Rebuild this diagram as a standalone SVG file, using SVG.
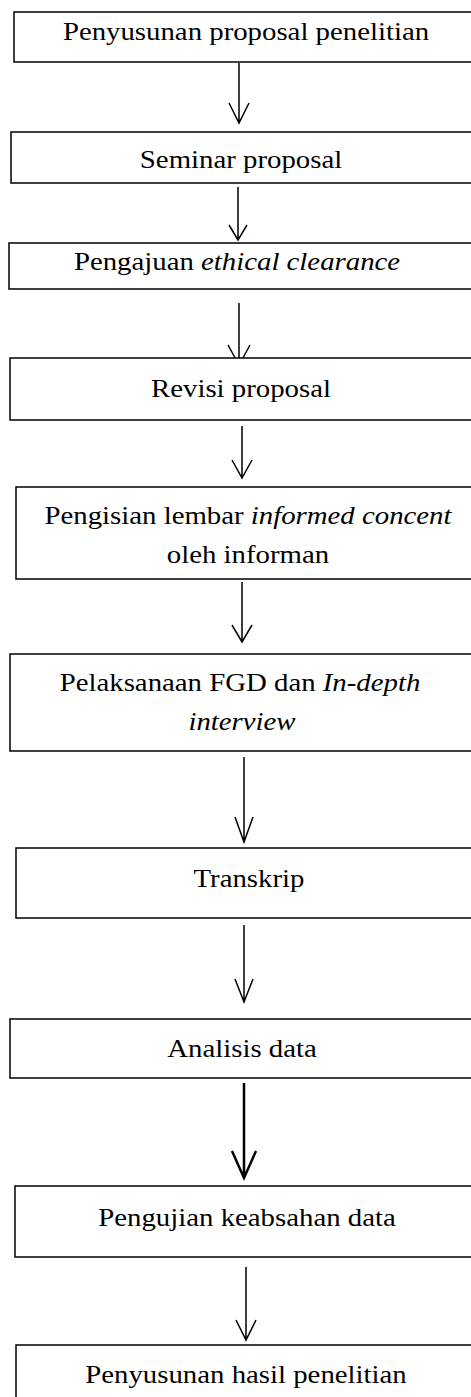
<svg xmlns="http://www.w3.org/2000/svg" width="471" height="1397" viewBox="0 0 471 1397">
<style>
.box{fill:#fff;stroke:#000;stroke-width:1.5}
.lbl{font-family:"Liberation Serif","Times New Roman",serif;font-size:25.5px;fill:#000;text-anchor:middle}
.it{font-style:italic}
.ln{stroke:#000;stroke-width:1.5;fill:none}
.thick{stroke-width:2.5}
</style>
<rect width="471" height="1397" fill="#fff"/>
<g id="connectors">
<path class="ln" d="M239,63V123M229,103L239,123L249,103"/>
<path class="ln" d="M238,187V240M229,225L238,240L247,225"/>
<path class="ln" d="M239,303V365M228,345L239,365L250,345"/>
<path class="ln" d="M242,426V478M232,460L242,478L252,460"/>
<path class="ln" d="M242,582V642M232,625L242,642L252,625"/>
<path class="ln" d="M244,757V842M235,817L244,842L253,817"/>
<path class="ln" d="M244,925V1002M235,979L244,1002L253,979"/>
<path class="ln thick" d="M244,1083V1178M232,1151L244,1178L256,1151"/>
<path class="ln" d="M246,1267V1340M236,1320L246,1340L256,1320"/>
</g>
<g id="n1"><rect class="box" x="14" y="12" width="470" height="50"/>
<text class="lbl" transform="translate(246,39.5) scale(1.13,1)">Penyusunan proposal penelitian</text></g>
<g id="n2"><rect class="box" x="11" y="132" width="470" height="51"/>
<text class="lbl" transform="translate(241,168) scale(1.13,1)">Seminar proposal</text></g>
<g id="n3"><rect class="box" x="9" y="243" width="470" height="46"/>
<text class="lbl" transform="translate(237,270) scale(1.13,1)">Pengajuan <tspan class="it">ethical clearance</tspan></text></g>
<g id="n4"><rect class="box" x="10" y="358" width="470" height="62"/>
<text class="lbl" transform="translate(241,397) scale(1.13,1)">Revisi proposal</text></g>
<g id="n5"><rect class="box" x="16" y="487" width="470" height="92"/>
<text class="lbl" transform="translate(248,524) scale(1.13,1)">Pengisian lembar <tspan class="it">informed concent</tspan></text>
<text class="lbl" transform="translate(248,563) scale(1.13,1)">oleh informan</text></g>
<g id="n6"><rect class="box" x="10" y="654" width="470" height="97"/>
<text class="lbl" transform="translate(240,691) scale(1.13,1)">Pelaksanaan FGD dan <tspan class="it">In-depth</tspan></text>
<text class="lbl it" transform="translate(242,730) scale(1.13,1)">interview</text></g>
<g id="n7"><rect class="box" x="16" y="848" width="470" height="70"/>
<text class="lbl" transform="translate(249,887) scale(1.13,1)">Transkrip</text></g>
<g id="n8"><rect class="box" x="10" y="1019" width="470" height="59"/>
<text class="lbl" transform="translate(242,1057) scale(1.13,1)">Analisis data</text></g>
<g id="n9"><rect class="box" x="15" y="1186" width="470" height="71"/>
<text class="lbl" transform="translate(247,1226) scale(1.13,1)">Pengujian keabsahan data</text></g>
<g id="n10"><rect class="box" x="16" y="1345" width="470" height="80"/>
<text class="lbl" transform="translate(246,1383) scale(1.13,1)">Penyusunan hasil penelitian</text></g>
</svg>
